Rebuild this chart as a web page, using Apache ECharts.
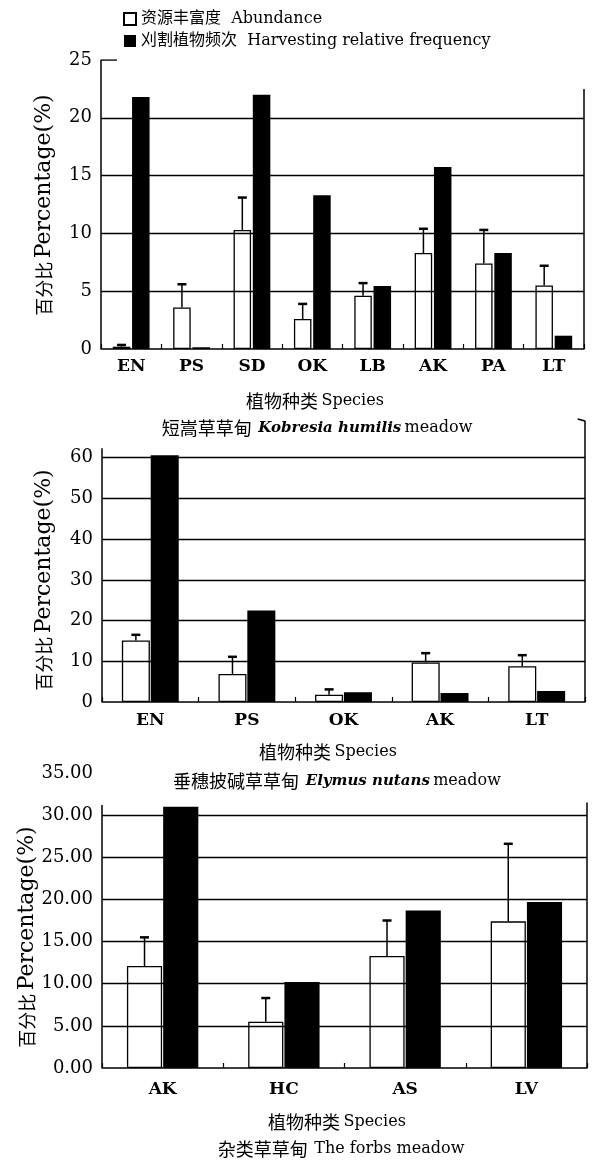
<!DOCTYPE html>
<html><head><meta charset="utf-8">
<script src="https://cdn.jsdelivr.net/npm/echarts@6/dist/echarts.min.js"></script>
<style>html,body{margin:0;padding:0;background:#fff}#c{width:596px;height:1163px}</style>
</head><body><div id="c"></div>
<script>
// ---------- data ----------
const legendNames = ['资源丰富度  Abundance', '刈割植物频次  Harvesting relative frequency'];

// Panel 1: Kobresia humilis meadow
const cats1 = ['EN', 'PS', 'SD', 'OK', 'LB', 'AK', 'PA', 'LT'];
const abund1 = [0.2, 3.6, 10.3, 2.6, 4.6, 8.3, 7.4, 5.5];
const abundErr1 = [0.15, 2.0, 2.8, 1.3, 1.1, 2.1, 2.9, 1.7];
const harv1 = [21.8, 0.15, 22.0, 13.3, 5.45, 15.75, 8.3, 1.15];
const gridTicks1 = [5, 10, 15, 20];

// Panel 2: Elymus nutans meadow
const cats2 = ['EN', 'PS', 'OK', 'AK', 'LT'];
const abund2 = [15.1, 6.9, 1.8, 9.7, 8.8];
const abundErr2 = [1.4, 4.2, 1.3, 2.3, 2.7];
const harv2 = [60.6, 22.5, 2.4, 2.2, 2.7];
const gridTicks2 = [10, 20, 30, 40, 50, 60];

// Panel 3: The forbs meadow
const cats3 = ['AK', 'HC', 'AS', 'LV'];
const abund3 = [12.1, 5.5, 13.3, 17.4];
const abundErr3 = [3.4, 2.8, 4.2, 9.2];
const harv3 = [31.0, 10.2, 18.7, 19.7];
const gridTicks3 = [5, 10, 15, 20, 25, 30];

// frame line extents (value units) of the scanned figure
const frame1 = {left: 25, right: 22.5};
const frame2 = {left: 62.3, right: 69};
const frame3 = {left: 31.2, right: 31.5};

// ---------- styles ----------
const SERIF = "'DejaVu Serif', 'Noto Sans CJK SC', serif";
const CJK = "'Noto Sans CJK SC', sans-serif";
const richTxt = {
  c: {fontFamily: CJK, fontSize: 18, fill: '#000'},
  l: {fontFamily: SERIF, fontSize: 16, fill: '#000'},
  i: {fontFamily: SERIF, fontSize: 15, fontStyle: 'italic', fontWeight: 'bold', fill: '#000'},
  y: {fontFamily: SERIF, fontSize: 22, fill: '#000'},
  yc: {fontFamily: CJK, fontSize: 18, fill: '#000'}
};

const chart = echarts.init(document.getElementById('c'), null, {renderer: 'canvas'});

const grids = [
  {left: 101, top: 60, width: 483, height: 289},
  {left: 102, top: 417, width: 483, height: 285},
  {left: 102, top: 773, width: 485, height: 295}
];

const panels = [
  {cats: cats1, abund: abund1, err: abundErr1, harv: harv1, ticks: gridTicks1, frame: frame1,
   max: 25, interval: 5, barW: 0.29, gap: 0.10, labelMargin: 9, fmt: v => String(v), topTick: true},
  {cats: cats2, abund: abund2, err: abundErr2, harv: harv2, ticks: gridTicks2, frame: frame2,
   max: 70, interval: 10, barW: 0.29, gap: 0.03, labelMargin: 10, fmt: v => String(v), hook: true},
  {cats: cats3, abund: abund3, err: abundErr3, harv: harv3, ticks: gridTicks3, frame: frame3,
   max: 35, interval: 5, barW: 0.29, gap: 0.03, labelMargin: 13, fmt: v => v.toFixed(2)}
];

const xAxis = [], yAxis = [], series = [];

function makeErr(barW, gap) {
  return function (params, api) {
    const idx = api.value(0), val = api.value(1), err = api.value(2);
    const base = api.coord([idx, val]);
    const top = api.coord([idx, val + err]);
    const band = api.size([1, 0])[0];
    const bw = band * barW;
    const x = base[0] - bw * (1 + gap) / 2;
    return {
      type: 'group',
      children: [
        {type: 'line', shape: {x1: x, y1: base[1], x2: x, y2: top[1]}, style: {stroke: '#000', lineWidth: 1.5}},
        {type: 'line', shape: {x1: x - 4.5, y1: top[1], x2: x + 4.5, y2: top[1]}, style: {stroke: '#000', lineWidth: 2.5}}
      ]
    };
  };
}

panels.forEach((p, i) => {
  xAxis.push({
    type: 'category', gridIndex: i, data: p.cats,
    axisLine: {lineStyle: {color: '#000', width: 1.5}},
    axisTick: {show: true, inside: true, length: 5, lineStyle: {color: '#000', width: 1.2}},
    axisLabel: {color: '#000', fontFamily: SERIF, fontWeight: 'bold', fontSize: 17, margin: p.labelMargin}
  });
  yAxis.push({
    type: 'value', gridIndex: i, min: 0, max: p.max, interval: p.interval,
    axisLine: {show: false}, axisTick: {show: false}, splitLine: {show: false},
    axisLabel: {color: '#000', fontFamily: SERIF, fontSize: 18, margin: 9, formatter: p.fmt,
                showMaxLabel: i !== 1}
  });
});
// hidden value x-axes used to place frame lines on each grid
panels.forEach((p, i) => {
  xAxis.push({type: 'value', gridIndex: i, min: 0, max: 1, show: false});
});

panels.forEach((p, i) => {
  series.push({
    name: legendNames[0], type: 'bar', xAxisIndex: i, yAxisIndex: i,
    data: p.abund, barWidth: (p.barW * 100) + '%', barGap: (p.gap * 100) + '%',
    itemStyle: {color: '#fff', borderColor: '#000', borderWidth: 1.3}, z: 2
  });
  series.push({
    name: legendNames[1], type: 'bar', xAxisIndex: i, yAxisIndex: i,
    data: p.harv, barWidth: (p.barW * 100) + '%', barGap: (p.gap * 100) + '%',
    itemStyle: {color: '#000', borderColor: '#000', borderWidth: 0}, z: 2
  });
  series.push({
    type: 'custom', xAxisIndex: i, yAxisIndex: i, z: 5, silent: true,
    renderItem: makeErr(p.barW, p.gap),
    data: p.abund.map((v, k) => [k, v, p.err[k]])
  });
  const leftPts = p.topTick ? [[0.033, p.frame.left], [0, p.frame.left], [0, 0]] : [[0, p.frame.left], [0, 0]];
  const rightPts = p.hook ? [[0.985, p.frame.right + 0.5], [1, p.frame.right], [1, 0]] : [[1, p.frame.right], [1, 0]];
  series.push({
    type: 'line', xAxisIndex: 3 + i, yAxisIndex: i, z: 1, silent: true,
    data: leftPts, symbol: 'none', lineStyle: {color: '#000', width: 1.5},
    markLine: {
      silent: true, symbol: ['none', 'none'], label: {show: false},
      lineStyle: {color: '#000', width: 1.4, type: 'solid'},
      data: p.ticks.map(v => ({yAxis: v}))
    }
  });
  series.push({
    type: 'line', xAxisIndex: 3 + i, yAxisIndex: i, z: 1, silent: true,
    data: rightPts, symbol: 'none', lineStyle: {color: '#000', width: 1.5}
  });
});

function txt(x, y, text, rot) {
  return {
    type: 'text', x: x, y: y, rotation: rot || 0, silent: true,
    style: {text: text, align: 'center', verticalAlign: 'middle', rich: richTxt}
  };
}

const option = {
  backgroundColor: '#fff',
  animation: false,
  grid: grids,
  xAxis: xAxis,
  yAxis: yAxis,
  legend: {
    data: legendNames, orient: 'vertical', left: 118, top: 6,
    itemWidth: 12, itemHeight: 12, itemGap: 6, icon: 'rect', selectedMode: false,
    textStyle: {fontFamily: SERIF, fontSize: 16, color: '#000'}
  },
  series: series,
  graphic: [
    txt(44, 205, '{yc|百分比} {y|Percentage(%)}', Math.PI / 2),
    txt(44, 580, '{yc|百分比} {y|Percentage(%)}', Math.PI / 2),
    txt(27, 937, '{yc|百分比} {y|Percentage(%)}', Math.PI / 2),
    txt(315, 401, '{c|植物种类} {l|Species}'),
    txt(317, 428, '{c|短嵩草草甸}  {i|Kobresia humilis} {l|meadow}'),
    txt(328, 752, '{c|植物种类} {l|Species}'),
    txt(337, 781, '{c|垂穗披碱草草甸}  {i|Elymus nutans} {l|meadow}'),
    txt(337, 1122, '{c|植物种类} {l|Species}'),
    txt(341, 1149, '{c|杂类草草甸}  {l|The forbs meadow}')
  ]
};
chart.setOption(option);
</script>
</body></html>
